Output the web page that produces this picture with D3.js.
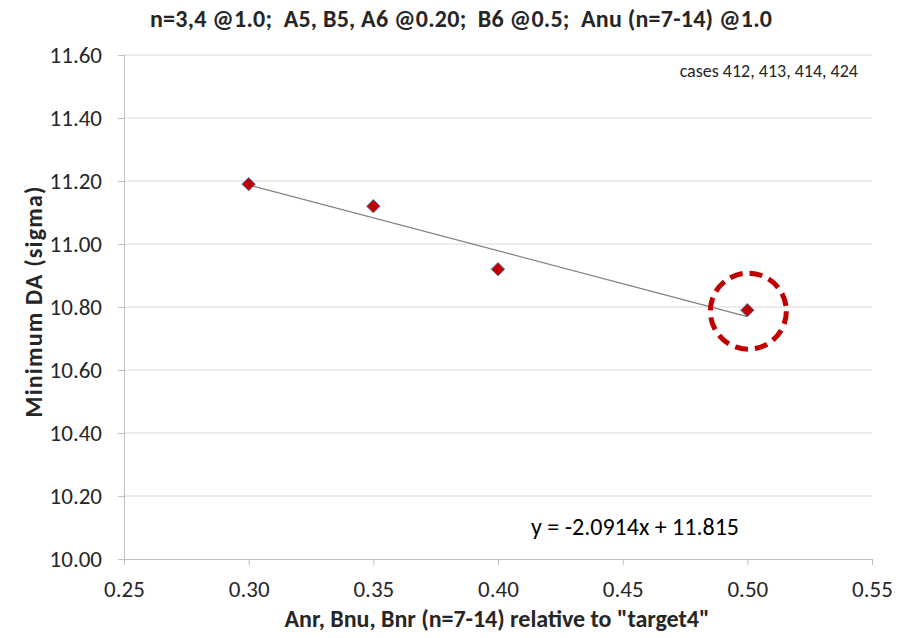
<!DOCTYPE html>
<html>
<head>
<meta charset="utf-8">
<script src="https://cdn.jsdelivr.net/npm/d3@7"></script>
<style>
  body { margin: 0; background: #fff; }
  svg text { font-family: Carlito, "Liberation Sans Narrow", "Open Sans", sans-serif; white-space: pre; }
</style>
</head>
<body>
<svg id="chart" width="904" height="638"></svg>
<script>
// data
var xValues = [0.30, 0.35, 0.40, 0.50];
var yValues = [11.19, 11.12, 10.92, 10.79];
var xTicks = [0.25, 0.30, 0.35, 0.40, 0.45, 0.50, 0.55];
var yTicks = [10.00, 10.20, 10.40, 10.60, 10.80, 11.00, 11.20, 11.40, 11.60];
var trendSlope = -2.0914, trendIntercept = 11.815;
var highlightIdx = 3;

var svg = d3.select('#chart');
var x = d3.scaleLinear().domain([0.25, 0.55]).range([124, 872]);
var y = d3.scaleLinear().domain([10.0, 11.6]).range([559, 55]);

// gridlines
svg.append('g').selectAll('line').data(yTicks.slice(1)).enter().append('line')
  .attr('x1', x(0.25)).attr('x2', x(0.55))
  .attr('y1', function(d){ return y(d); }).attr('y2', function(d){ return y(d); })
  .attr('stroke', '#d9d9d9').attr('stroke-width', 1);

// y axis
var yAxis = svg.append('g').attr('transform', 'translate(' + x(0.25) + ',0)')
  .call(d3.axisLeft(y).tickValues(yTicks).tickFormat(d3.format('.2f')).tickSize(6).tickPadding(16));
// x axis
var xAxis = svg.append('g').attr('transform', 'translate(0,' + y(10.0) + ')')
  .call(d3.axisBottom(x).tickValues(xTicks).tickFormat(d3.format('.2f')).tickSize(6).tickPadding(20));
[yAxis, xAxis].forEach(function(a){
  a.select('.domain').attr('stroke', '#bfbfbf');
  a.selectAll('.tick line').attr('stroke', '#bfbfbf');
  a.selectAll('.tick text').attr('fill', '#262626').style('font-size', '23px')
    .style('font-family', 'Carlito, "Liberation Sans Narrow", "Open Sans", sans-serif');
});
yAxis.selectAll('.tick text').attr('dy', '0.34em');
xAxis.selectAll('.tick text').attr('dy', '0.5em');

// trend line
var trend = d3.line().x(function(d){ return x(d); }).y(function(d){ return y(trendSlope * d + trendIntercept); });
svg.append('path').datum([d3.min(xValues), d3.max(xValues)])
  .attr('d', trend).attr('fill', 'none').attr('stroke', '#7f7f7f').attr('stroke-width', 1.2);

// markers
var pts = xValues.map(function(v, i){ return [v, yValues[i]]; });
svg.append('g').selectAll('path').data(pts).enter().append('path')
  .attr('transform', function(d){ return 'translate(' + x(d[0]) + ',' + y(d[1]) + ')'; })
  .attr('d', d3.symbol().type(d3.symbolDiamond2).size(115))
  .attr('fill', '#c00000').attr('stroke', '#4f81bd').attr('stroke-width', 1);

// highlight circle
svg.append('circle')
  .attr('cx', x(xValues[highlightIdx]) + 1).attr('cy', y(yValues[highlightIdx]) + 1)
  .attr('r', 38).attr('fill', 'none').attr('stroke', '#c00000')
  .attr('stroke-width', 5).attr('stroke-dasharray', '13,7');

// texts
svg.append('text').attr('x', 461).attr('y', 27).attr('text-anchor', 'middle')
  .style('font-size', '24px').style('font-weight', 'bold').attr('fill', '#262626')
  .attr('textLength', 622).attr('lengthAdjust', 'spacing')
  .text('n=3,4 @1.0;  A5, B5, A6 @0.20;  B6 @0.5;  Anu (n=7-14) @1.0');
svg.append('text').attr('x', 858).attr('y', 77).attr('text-anchor', 'end')
  .style('font-size', '18px').attr('fill', '#262626').text('cases 412, 413, 414, 424');
svg.append('text').attr('x', 635).attr('y', 535).attr('text-anchor', 'middle')
  .style('font-size', '24px').attr('fill', '#000').text('y = -2.0914x + 11.815');
svg.append('text').attr('x', 497).attr('y', 627).attr('text-anchor', 'middle')
  .style('font-size', '24px').style('font-weight', 'bold').attr('fill', '#262626')
  .attr('textLength', 425).attr('lengthAdjust', 'spacing')
  .text('Anr, Bnu, Bnr (n=7-14) relative to "target4"');
svg.append('text').attr('transform', 'translate(42,302) rotate(-90)').attr('text-anchor', 'middle')
  .style('font-size', '24px').style('font-weight', 'bold').attr('fill', '#262626')
  .attr('textLength', 231).attr('lengthAdjust', 'spacing')
  .text('Minimum DA (sigma)');
</script>
</body>
</html>
